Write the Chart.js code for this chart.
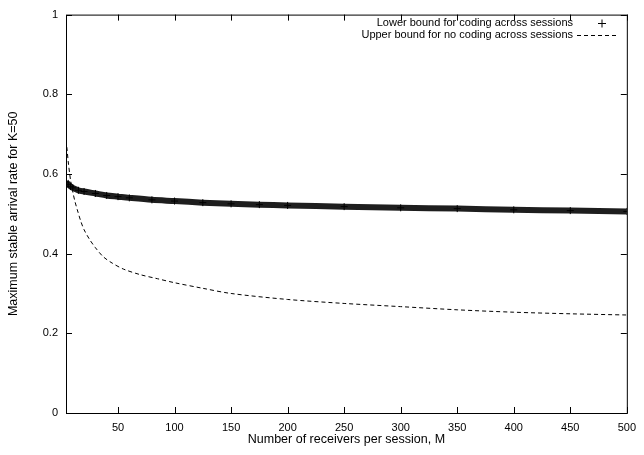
<!DOCTYPE html>
<html>
<head>
<meta charset="utf-8">
<script src="https://cdn.jsdelivr.net/npm/chart.js@4/dist/chart.umd.min.js"></script>
<style>
html, body { margin: 0; padding: 0; background: #fff; }
#wrap { width: 644px; height: 455px; }
</style>
</head>
<body>
<div id="wrap"><canvas id="rateChart" width="644" height="455"></canvas></div>
<script>
// values
const lowerM   = [4, 6, 8, 10, 15, 20, 30, 40, 50, 60, 80, 100, 125, 150, 175, 200, 250, 300, 350, 400, 450, 500];
const lowerVal = [0.580, 0.574, 0.569, 0.565, 0.559, 0.556, 0.551, 0.546, 0.543, 0.540, 0.535, 0.532, 0.528, 0.525, 0.523, 0.521, 0.518, 0.515, 0.513, 0.510, 0.508, 0.506];

const upperM   = [4, 5, 6, 8, 10, 12, 14, 17, 20, 25, 30, 37, 45, 55, 70, 85, 100, 125, 150, 200, 250, 300, 350, 400, 450, 500];
const upperVal = [0.685, 0.660, 0.630, 0.585, 0.555, 0.530, 0.510, 0.482, 0.460, 0.435, 0.415, 0.392, 0.376, 0.361, 0.347, 0.337, 0.327, 0.313, 0.300, 0.285, 0.275, 0.267, 0.259, 0.253, 0.249, 0.246];

const xTicks = [50, 100, 150, 200, 250, 300, 350, 400, 450, 500];
const yTicks = [0, 0.2, 0.4, 0.6, 0.8, 1];

const seriesNames = ['Lower bound for coding across sessions', 'Upper bound for no coding across sessions'];

const FONT = 'Liberation Sans, Arial, Helvetica, sans-serif';

// box, inner ticks (all four sides) and the key
const framePlugin = {
  id: 'frame',
  afterDraw(chart) {
    const {ctx, chartArea: a, scales: {x, y}} = chart;
    ctx.save();
    ctx.strokeStyle = '#000';
    ctx.lineWidth = 1;
    ctx.setLineDash([]);
    ctx.strokeRect(a.left + 0.5, a.top + 0.5, a.right - a.left, a.bottom - a.top);
    ctx.beginPath();
    xTicks.forEach(v => {
      const px = Math.round(x.getPixelForValue(v)) + 0.5;
      ctx.moveTo(px, a.bottom); ctx.lineTo(px, a.bottom - 6);
      ctx.moveTo(px, a.top); ctx.lineTo(px, a.top + 6);
    });
    yTicks.forEach(v => {
      const py = Math.round(y.getPixelForValue(v)) + 0.5;
      ctx.moveTo(a.left, py); ctx.lineTo(a.left + 6, py);
      ctx.moveTo(a.right, py); ctx.lineTo(a.right - 6, py);
    });
    ctx.stroke();

    // key
    ctx.font = '11px ' + FONT;
    ctx.fillStyle = '#000';
    ctx.textAlign = 'right';
    ctx.textBaseline = 'middle';
    ctx.fillText(seriesNames[0], 573, 23);
    ctx.fillText(seriesNames[1], 573, 34.5);
    ctx.beginPath();
    ctx.moveTo(598, 23.5); ctx.lineTo(606, 23.5);
    ctx.moveTo(602, 19.5); ctx.lineTo(602, 27.5);
    ctx.stroke();
    ctx.setLineDash([4, 3]);
    ctx.beginPath();
    ctx.moveTo(577, 35.5); ctx.lineTo(618, 35.5);
    ctx.stroke();
    ctx.restore();
  }
};

new Chart(document.getElementById('rateChart'), {
  type: 'line',
  data: {
    datasets: [
      {
        label: seriesNames[0],
        data: lowerM.map((m, i) => ({x: m, y: lowerVal[i]})),
        borderColor: '#1e1e1e',
        borderWidth: 6,
        pointStyle: 'cross',
        pointRadius: 3.5,
        pointBorderColor: '#000',
        pointBorderWidth: 1,
        tension: 0.3,
        fill: false
      },
      {
        label: seriesNames[1],
        data: upperM.map((m, i) => ({x: m, y: upperVal[i]})),
        borderColor: '#000',
        borderWidth: 1,
        borderDash: [4, 3],
        pointRadius: 0,
        tension: 0.3,
        fill: false
      }
    ]
  },
  options: {
    responsive: false,
    animation: false,
    layout: { padding: { top: 10, right: 11, left: 0, bottom: 0 } },
    plugins: {
      legend: { display: false },
      tooltip: { enabled: false }
    },
    scales: {
      x: {
        type: 'linear',
        min: 4,
        max: 500,
        afterBuildTicks: s => { s.ticks = xTicks.map(v => ({value: v})); },
        afterFit: s => { s.height = 42; },
        grid: { display: false, drawTicks: false },
        border: { display: false },
        ticks: { color: '#000', font: { family: FONT, size: 11 }, padding: 8, maxRotation: 0 },
        title: {
          display: true,
          text: 'Number of receivers per session, M',
          color: '#000',
          font: { family: FONT, size: 12.5 },
          padding: { top: 0, bottom: 7.5 }
        }
      },
      y: {
        min: 0,
        max: 1,
        afterBuildTicks: s => { s.ticks = yTicks.map(v => ({value: v})); },
        afterFit: s => { s.width = 66; },
        grid: { display: false, drawTicks: false },
        border: { display: false },
        ticks: {
          color: '#000',
          font: { family: FONT, size: 11 },
          padding: 8,
          callback: v => String(Math.round(v * 10) / 10)
        },
        title: {
          display: true,
          text: 'Maximum stable arrival rate for K=50',
          color: '#000',
          font: { family: FONT, size: 12.5 },
          padding: { top: 6.5, bottom: 0 }
        }
      }
    }
  },
  plugins: [framePlugin]
});
</script>
</body>
</html>
